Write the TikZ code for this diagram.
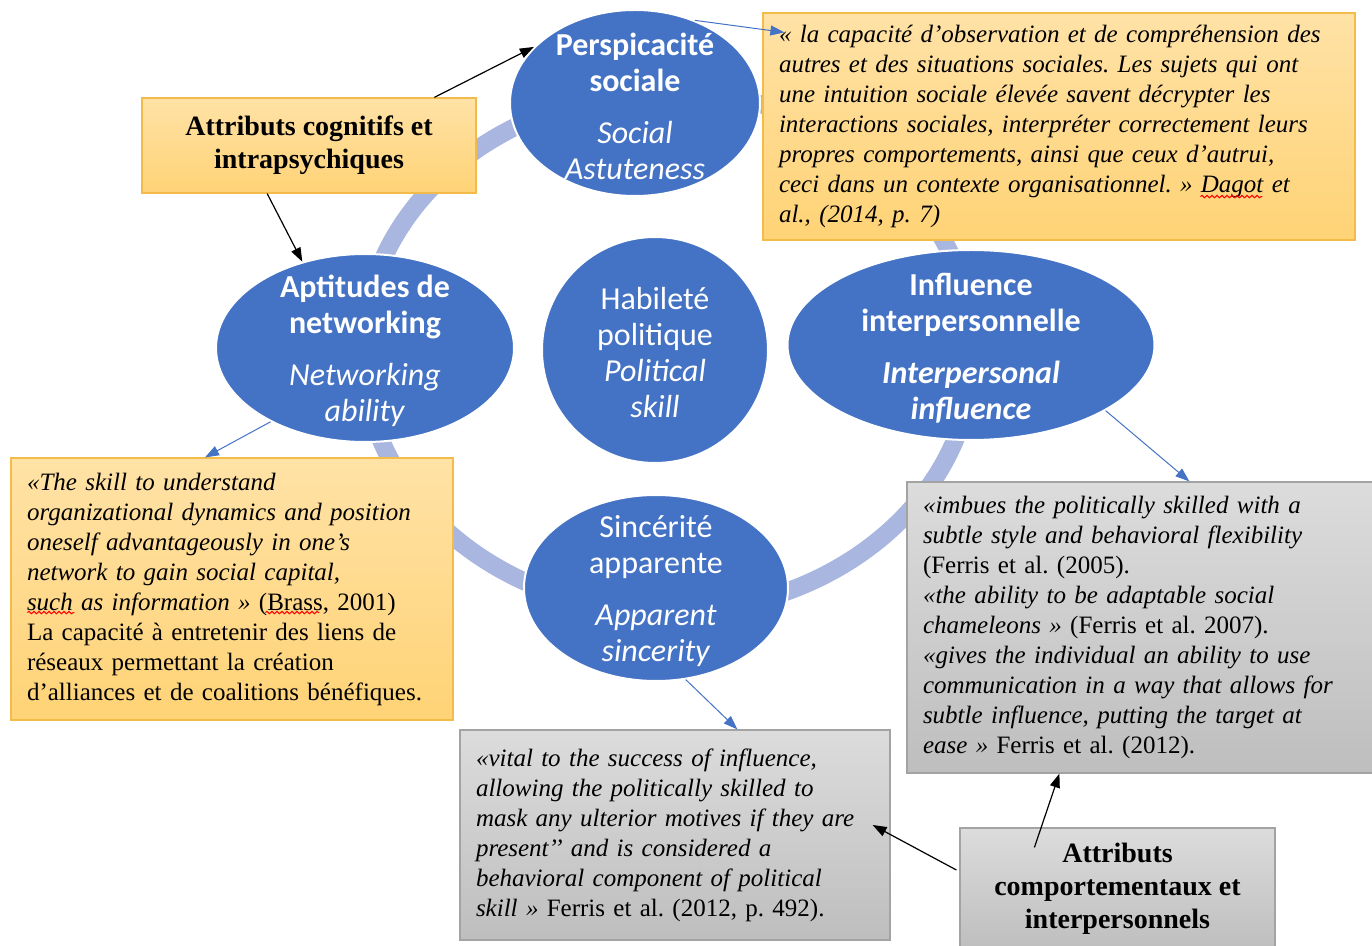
\documentclass[tikz,border=0pt]{standalone}
\usepackage{fontspec}
\setmainfont{Liberation Serif}
\newfontfamily\calibri{Carlito}
\usepackage{tikz}
\usetikzlibrary{arrows.meta,calc,shapes.geometric,decorations.pathmorphing}
\definecolor{accblue}{HTML}{4472C4}
\definecolor{ringblue}{HTML}{A9B7E0}
\definecolor{goldtop}{HTML}{FFE2A6}
\definecolor{goldbot}{HTML}{FFD376}
\definecolor{goldline}{HTML}{F2BB4A}
\definecolor{greytop}{HTML}{DCDCDC}
\definecolor{greybot}{HTML}{BEBEBE}
\definecolor{greyline}{HTML}{A3A3A3}
\frenchspacing

\begin{document}
\begin{tikzpicture}[x=0.5pt,y=-0.5pt,
  bubble/.style={ellipse,fill=accblue,draw=white,line width=1pt,inner sep=0pt},
  bubtext/.style={text=white,align=center,yshift=-1.5pt,font=\calibri\fontsize{16}{18}\selectfont},
  goldbox/.style={draw=goldline,line width=0.6pt,top color=goldtop,bottom color=goldbot,inner xsep=8pt,align=left,font=\fontsize{12.5}{15}\selectfont},
  greybox/.style={goldbox,draw=greyline,top color=greytop,bottom color=greybot},
  tagbox/.style={align=center,font=\bfseries\fontsize{14}{16.5}\selectfont},
  bluearr/.style={accblue,line width=0.5pt,-{Triangle[length=7pt,width=5pt]}},
  blackarr/.style={black,line width=0.6pt,-{Triangle[length=7pt,width=5pt]}},
  squiggle/.style={red,line width=0.5pt,decorate,decoration={snake,amplitude=0.6pt,segment length=2.5pt}}]
  \useasboundingbox (0,0) rectangle (1372,946);
  \draw[ringblue,line width=9pt] (668,352) ellipse [x radius=305,y radius=260];

  \node[bubble,minimum width=125pt,minimum height=93pt] (persp) at (635,103) {};
  \node[bubtext] (persp-t) at (persp) {\textbf{Perspicacité}\\ \textbf{sociale}\\[8pt] \textit{Social}\\ \textit{Astuteness}};
  \node[bubble,minimum width=149pt,minimum height=94pt] (netw) at (365,348) {};
  \node[bubtext] (netw-t) at (netw) {\textbf{Aptitudes de}\\ \textbf{networking}\\[8pt] \textit{Networking}\\ \textit{ability}};
  \node[bubble,minimum width=113pt,minimum height=113pt] (habil) at (655,350) {};
  \node[bubtext] (habil-t) at (habil) {Habileté\\ politique\\ \textit{Political}\\ \textit{skill}};
  \node[bubble,minimum width=183.5pt,minimum height=95pt] (infl) at (971,345) {};
  \node[bubtext] (infl-t) at (infl) {\textbf{Influence}\\ \textbf{interpersonnelle}\\[8pt] \textbf{\textit{Interpersonal}}\\ \textbf{\textit{influence}}};
  \node[bubble,minimum width=132pt,minimum height=93pt] (sinc) at (656,588) {};
  \node[bubtext] (sinc-t) at (sinc) {Sincérité\\ apparente\\[8pt] \textit{Apparent}\\ \textit{sincerity}};

  \node[goldbox,text width=280pt,minimum height=113.5pt] (quote1) at (1059,126.5) {\itshape « la capacité d’observation et de compréhension des\\ autres et des situations sociales. Les sujets qui ont\\ une intuition sociale élevée savent décrypter les\\ interactions sociales, interpréter correctement leurs\\ propres comportements, ainsi que ceux d’autrui,\\ ceci dans un contexte organisationnel. » Dagot et\\ al., (2014, p. 7)};
  \node[goldbox,tagbox,minimum width=167pt,minimum height=47.5pt] (cog) at (309,145.5) {Attributs cognitifs et\\ intrapsychiques};
  \node[goldbox,text width=205pt,minimum height=131pt] (quote2) at (232,589) {{\itshape «The skill to understand\\ organizational dynamics and position\\ oneself advantageously in one’s\\ network to gain social capital,\\ such as information »} (Brass, 2001)\\ La capacité à entretenir des liens de\\ réseaux permettant la création\\ d’alliances et de coalitions bénéfiques.};
  \node[greybox,text width=221.5pt,minimum height=145.5pt] (quote3) at (1144.5,627.5) {{\itshape «imbues the politically skilled with a\\ subtle style and behavioral flexibility}\\ (Ferris et al. (2005).\\ {\itshape «the ability to be adaptable social\\ chameleons »} (Ferris et al. 2007).\\ {\itshape «gives the individual an ability to use\\ communication in a way that allows for\\ subtle influence, putting the target at\\ ease »} Ferris et al. (2012).};
  \node[greybox,text width=199pt,minimum height=105pt] (quote4) at (675,835) {{\itshape «vital to the success of influence,\\ allowing the politically skilled to\\ mask any ulterior motives if they are\\ present’’ and is considered a\\ behavioral component of political\\ skill »} Ferris et al. (2012, p. 492).};
  \node[greybox,tagbox,minimum width=157.5pt,minimum height=61pt] (beh) at (1117.5,889) {Attributs\\ comportementaux et\\ interpersonnels};

  \draw[squiggle] ($(quote1.south west)+(438,-44)$) -- ($(quote1.south west)+(500,-44)$);
  \draw[squiggle] ($(quote2.south west)+(17,-108)$) -- ($(quote2.south west)+(64,-108)$);
  \draw[squiggle] ($(quote2.south west)+(255,-108)$) -- ($(quote2.south west)+(309,-108)$);

  \draw[blackarr] (cog.21) -- (persp.151);
  \draw[blackarr] (cog.229) -- (netw.126);
  \draw[bluearr] (persp.54) -- ($(quote1.north west)+(22,20)$);
  \draw[bluearr] (netw.218) -- ($(quote2.north)+(-27,0)$);
  \draw[bluearr] (infl.334) -- ($(quote3.north west)+(283,0)$);
  \draw[bluearr] (sinc.288) -- ($(quote4.north west)+(278,0)$);
  \draw[blackarr] ($(beh.north west)+(75,20)$) -- ($(quote3.south west)+(153,0)$);
  \draw[blackarr] ($(beh.west)+(-3,-19)$) -- ($(quote4.east)+(-18,-10)$);
\end{tikzpicture}
\end{document}
